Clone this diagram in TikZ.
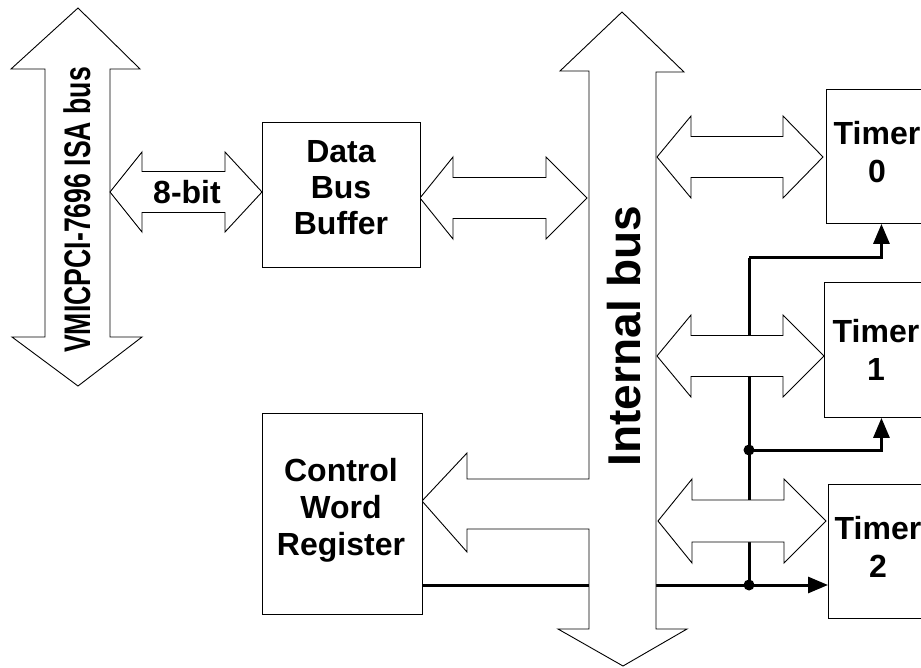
\documentclass[tikz,border=0pt]{standalone}
\usepackage{graphicx}
\usepackage{fontspec}
\setmainfont{Liberation Sans}
\usetikzlibrary{arrows.meta}
% horizontal double block arrow: #1 left tip x, #2 left head base x, #3 right head base x, #4 right tip x, #5 centre y, #6 shaft half width, #7 head half width
\newcommand{\hdblarrow}[7]{%
  \draw[blk] (#1,#5) -- (#2,{#5-#7}) -- (#2,{#5-#6}) -- (#3,{#5-#6}) -- (#3,{#5-#7}) -- (#4,#5)
    -- (#3,{#5+#7}) -- (#3,{#5+#6}) -- (#2,{#5+#6}) -- (#2,{#5+#7}) -- cycle;}
\begin{document}
\begin{tikzpicture}[x=1pt,y=-1pt,
  blk/.style={draw=black, line width=0.9pt, fill=white, line join=miter},
  box/.style={draw=black, line width=0.9pt, fill=white, inner sep=0pt, anchor=north west},
  txt/.style={font=\bfseries\fontsize{32}{36}\selectfont, inner sep=0pt},
  lbl/.style={txt, align=center},
  sig/.style={line width=3pt},
  sigarrow/.style={sig, -{Triangle[length=20pt,width=16pt]}},
  dot/.style={circle, fill=black, inner sep=0pt, minimum size=11pt}
]
\useasboundingbox (0,0) rectangle (921,668);

% control signal junctions
\coordinate (j1) at (749,450);
\coordinate (j2) at (749,585);
\coordinate (k0) at (749,258);

% boxes (positions)
\node[box, minimum width=158pt, minimum height=145pt] (dbb) at (262,122) {};
\node[box, minimum width=160pt, minimum height=201pt] (cwr) at (262,413) {};
\node[box, minimum width=102pt, minimum height=134pt] (t0) at (826,89) {};
\node[box, minimum width=104pt, minimum height=135pt] (t1) at (824,282) {};
\node[box, minimum width=100pt, minimum height=134pt] (t2) at (828,484) {};

% control signal lines (drawn first, partly hidden by the buses)
\draw[sigarrow] (cwr.south east |- j2) -- (t2.west |- j2);
\draw[sig] (j2) -- (k0);
\draw[sigarrow] (k0) -| ([xshift=4pt]t0.south);
\draw[sigarrow] (j1) -| ([xshift=5pt]t1.south);

% external ISA bus
\draw[blk] (78,8) -- (140,69) -- (110,69) -- (110,337) -- (142,337) -- (78,386)
  -- (12,337) -- (45,337) -- (45,69) -- (11,69) -- cycle;

% internal bus with the branch into the control word register
\draw[blk] (622,12) -- (684,72) -- (656,72) -- (656,629) -- (687,629) -- (623,666)
  -- (558,629) -- (589,629) -- (589,529) -- (467,529) -- (467,552) -- (422,501)
  -- (467,453) -- (467,479) -- (589,479) -- (589,71) -- (560,71) -- cycle;

% horizontal double arrows
\hdblarrow{110}{142}{225}{262}{192}{20.5}{40}
\hdblarrow{420}{453}{546}{587}{198}{20.5}{41}
\hdblarrow{657}{691}{783}{823}{157}{20.5}{41}
\hdblarrow{657}{691}{783}{824}{356}{20.5}{41}
\hdblarrow{658}{692}{784}{826}{521}{21}{42}

% redraw boxes on top
\node[box, minimum width=158pt, minimum height=145pt] at (262,122) {};
\node[box, minimum width=160pt, minimum height=201pt] at (262,413) {};
\node[box, minimum width=102pt, minimum height=134pt] at (826,89) {};
\node[box, minimum width=104pt, minimum height=135pt] at (824,282) {};
\node[box, minimum width=100pt, minimum height=134pt] at (828,484) {};

% junction dots
\node[dot] (d1) at (j1) {};
\node[dot] (d2) at (j2) {};

% texts
\node[txt, rotate=90, anchor=base, font=\bfseries\fontsize{37}{40}\selectfont] (isa) at (90,210) {\scalebox{0.72}[1]{VMICPCI-7696 ISA bus}};
\node[txt, rotate=90, anchor=base, font=\bfseries\fontsize{46}{50}\selectfont] (ibus) at (640,336) {Internal bus};
\node[txt, anchor=base] (w8) at (187,204) {8-bit};
\node[lbl] (dbbt) at (341,188) {Data\\Bus\\Buffer};
\node[lbl, font=\bfseries\fontsize{32}{37}\selectfont] (cwrt) at (341,510) {Control\\Word\\Register};
\node[lbl, font=\bfseries\fontsize{32}{38}\selectfont] (t0t) at (877,152) {Timer\\0};
\node[lbl, font=\bfseries\fontsize{32}{38}\selectfont] (t1t) at (876,350) {Timer\\1};
\node[lbl, font=\bfseries\fontsize{32}{38}\selectfont] (t2t) at (878,547) {Timer\\2};
\end{tikzpicture}
\end{document}
